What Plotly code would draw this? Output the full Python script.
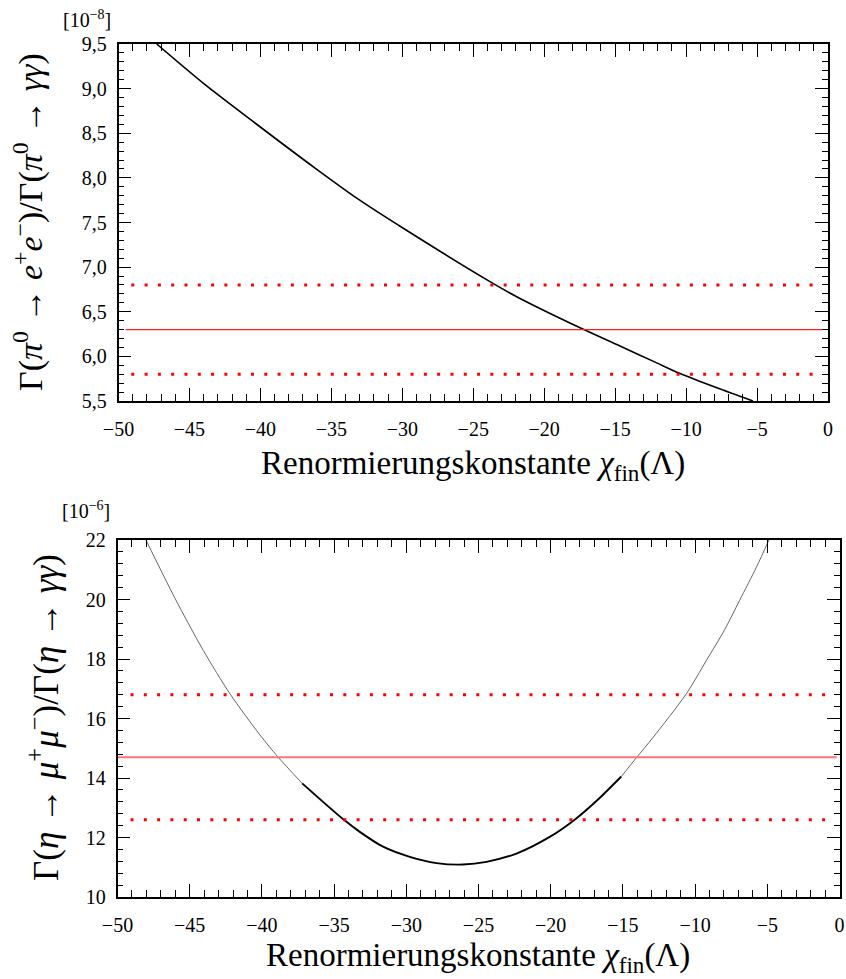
import plotly.graph_objects as go

# ---- data ----
pi_x = [-47.31, -43.90, -40.38, -36.15, -33.0, -29.93, -23.82, -21.94, -17.24, -14.66, -12.11, -10.46, -7.88, -5.29]
pi_y = [9.5, 9.044, 8.615, 8.11, 7.75, 7.435, 6.837, 6.669, 6.303, 6.116, 5.93, 5.81, 5.65, 5.5]
pi_exp_central = 6.3
pi_exp_band = [5.8, 6.8]

eta_x = [-48.03, -46.02, -44.06, -42.21, -40.14, -38.91, -37.21, -34.36, -33.22, -31.61, -29.76,
         -27.91, -26.07, -24.45, -22.37, -20.07, -18.34, -16.61, -15.11, -14.07, -12.92, -10.61,
         -9.22, -7.96, -6.92, -5.76, -4.89]
eta_y = [22, 20.04, 18.29, 16.83, 15.45, 14.72, 13.82, 12.61, 12.19, 11.69, 11.35,
         11.14, 11.09, 11.18, 11.46, 12.02, 12.60, 13.33, 14.05, 14.68, 15.36, 16.83,
         17.95, 18.98, 19.97, 21.08, 22]
eta_exp_central = 14.7
eta_exp_band = [12.6, 16.8]

x_ticks = [-50, -45, -40, -35, -30, -25, -20, -15, -10, -5, 0]

W, H = 846, 979
FONT = "Liberation Serif, Times New Roman, DejaVu Serif, serif"

def px(x):
    return x / W

def py(y):
    return 1 - y / H

fig = go.Figure()

# ---- top panel ----
fig.add_trace(go.Scatter(x=pi_x, y=pi_y, mode="lines",
                         line=dict(color="black", width=1.6, shape="spline", smoothing=0.8),
                         xaxis="x", yaxis="y", showlegend=False))
fig.add_trace(go.Scatter(x=[-49.5, -0.4], y=[pi_exp_central] * 2, mode="lines",
                         line=dict(color="#ff1f1f", width=1.2), xaxis="x", yaxis="y", showlegend=False))
for b in pi_exp_band:
    fig.add_trace(go.Scatter(x=[-49.1, -1.0], y=[b, b], mode="lines",
                             line=dict(color="red", width=3, dash="3px,10.3px"),
                             xaxis="x", yaxis="y", showlegend=False))

# ---- bottom panel ----
i0, i1 = 6, 18
seg_thin = dict(color="#555555", width=0.9, shape="spline", smoothing=0.8)
seg_thick = dict(color="black", width=1.9, shape="spline", smoothing=0.8)
fig.add_trace(go.Scatter(x=eta_x[:i0 + 1], y=eta_y[:i0 + 1], mode="lines", line=seg_thin,
                         xaxis="x2", yaxis="y2", showlegend=False))
fig.add_trace(go.Scatter(x=eta_x[i0:i1 + 1], y=eta_y[i0:i1 + 1], mode="lines", line=seg_thick,
                         xaxis="x2", yaxis="y2", showlegend=False))
fig.add_trace(go.Scatter(x=eta_x[i1:], y=eta_y[i1:], mode="lines", line=seg_thin,
                         xaxis="x2", yaxis="y2", showlegend=False))
fig.add_trace(go.Scatter(x=[-50, -0.2], y=[eta_exp_central] * 2, mode="lines",
                         line=dict(color="#ff7373", width=2), xaxis="x2", yaxis="y2", showlegend=False))
for b in eta_exp_band:
    fig.add_trace(go.Scatter(x=[-49.1, -1.0], y=[b, b], mode="lines",
                             line=dict(color="red", width=3, dash="3px,10.3px"),
                             xaxis="x2", yaxis="y2", showlegend=False))

tickfont = dict(family=FONT, size=20, color="black")

def xax(domain, anchor):
    return dict(domain=domain, anchor=anchor, range=[-50, 0], tickvals=x_ticks,
                ticks="inside", ticklen=13, tickwidth=1.3, tickcolor="black",
                showline=True, linewidth=1.6, linecolor="black", mirror="allticks",
                showgrid=False, zeroline=False, tickfont=tickfont, ticklabelstandoff=9,
                automargin=False, ticklabeloverflow="allow",
                minor=dict(dtick=1, tick0=0, ticks="inside", ticklen=7, tickwidth=1.1,
                           tickcolor="black", showgrid=False))

def yax(domain, anchor, rng, dtick, mdtick, fmt):
    return dict(domain=domain, anchor=anchor, range=rng, dtick=dtick, tick0=rng[0],
                tickformat=fmt, ticks="inside", ticklen=13, tickwidth=1.3, tickcolor="black",
                showline=True, linewidth=1.6, linecolor="black", mirror="allticks",
                showgrid=False, zeroline=False, tickfont=tickfont, ticklabelstandoff=6,
                automargin=False, ticklabeloverflow="allow",
                minor=dict(dtick=mdtick, tick0=rng[0], ticks="inside", ticklen=6, tickwidth=1.1,
                           tickcolor="black", showgrid=False))

fig.update_layout(
    width=W, height=H,
    margin=dict(l=0, r=0, t=0, b=0, autoexpand=False),
    paper_bgcolor="white", plot_bgcolor="white",
    separators=", ",
    font=dict(family=FONT, color="black"),
    xaxis=xax([px(118.5), px(828)], "y"),
    yaxis=yax([py(401), py(44)], "x", [5.5, 9.5], 0.5, 0.1, ".1f"),
    xaxis2=xax([px(117.5), px(839.5)], "y2"),
    yaxis2=yax([py(897), py(540)], "x2", [10, 22], 2, 0.4, "d"),
)

title_font = dict(family=FONT, size=33, color="black")
annotations = [
    dict(text="Renormierungskonstante <i>χ</i><sub>fin</sub>(Λ)", x=px(473), y=py(466),
         xanchor="center", yanchor="middle", font=title_font),
    dict(text="Renormierungskonstante <i>χ</i><sub>fin</sub>(Λ)", x=px(478), y=py(957),
         xanchor="center", yanchor="middle", font=title_font),
    dict(text="Γ(<i>π</i><sup>0</sup> → <i>e</i><sup>+</sup><i>e</i><sup>−</sup>)/Γ(<i>π</i><sup>0</sup> → <i>γγ</i>)",
         x=px(29), y=py(222), xanchor="center", yanchor="middle", textangle=-90,
         font=dict(family=FONT, size=34, color="black")),
    dict(text="Γ(<i>η</i> → <i>μ</i><sup>+</sup><i>μ</i><sup>−</sup>)/Γ(<i>η</i> → <i>γγ</i>)",
         x=px(43), y=py(718), xanchor="center", yanchor="middle", textangle=-90,
         font=dict(family=FONT, size=35, color="black")),
    dict(text="[10<sup>−8</sup>]", x=px(87), y=py(19), xanchor="center", yanchor="middle",
         font=dict(family=FONT, size=20, color="black")),
    dict(text="[10<sup>−6</sup>]", x=px(86), y=py(510), xanchor="center", yanchor="middle",
         font=dict(family=FONT, size=20, color="black")),
]
for a in annotations:
    a.update(xref="paper", yref="paper", showarrow=False)
fig.update_layout(annotations=annotations)

fig.write_html("out.html", config={"displayModeBar": False},
               post_script="document.body.style.margin='0';document.body.style.overflow='hidden';")
